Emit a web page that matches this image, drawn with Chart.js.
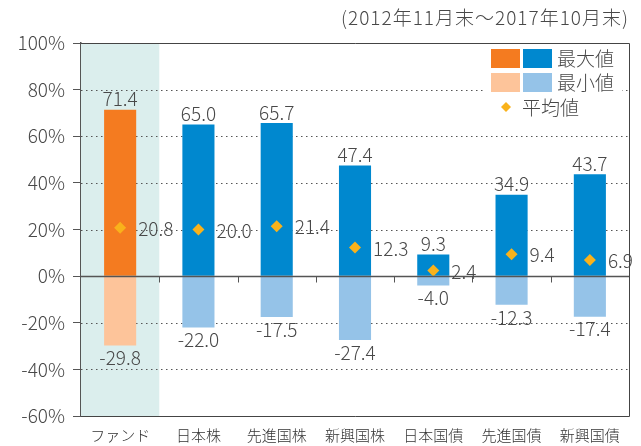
<!DOCTYPE html>
<html>
<head>
<meta charset="utf-8">
<script src="https://cdn.jsdelivr.net/npm/chart.js@4"></script>
<style>
  html, body { margin: 0; padding: 0; background: #fff; }
  #wrap { width: 641px; height: 446px; }
</style>
</head>
<body>
<div id="wrap"><canvas id="rangeChart" width="641" height="446"></canvas></div>
<script>
const categories = ["ファンド", "日本株", "先進国株", "新興国株", "日本国債", "先進国債", "新興国債"];
const maxValues = [71.4, 65.0, 65.7, 47.4, 9.3, 34.9, 43.7];
const minValues = [-29.8, -22.0, -17.5, -27.4, -4.0, -12.3, -17.4];
const avgValues = [20.8, 20.0, 21.4, 12.3, 2.4, 9.4, 6.9];
const periodNote = "(2012年11月末～2017年10月末)";
const legendNames = ["最大値", "最小値", "平均値"];

const FONT = '"Noto Sans CJK JP", "Noto Sans", sans-serif';
const TEXT = "#484848";
const AXIS = "#555";
const ORANGE = "#f47b20", ORANGE_L = "#fdc49a";
const BLUE = "#0088cf", BLUE_L = "#95c3e8";
const DIAMOND = "#f9b21b";

const maxColors = categories.map((c, i) => i === 0 ? ORANGE : BLUE);
const minColors = categories.map((c, i) => i === 0 ? ORANGE_L : BLUE_L);

// shading, dotted grid, zero line, box, labels, legend
const decor = {
  id: "decor",
  beforeDatasetsDraw(chart) {
    const { ctx, chartArea: a, scales: { y } } = chart;
    const step = (a.right - a.left) / categories.length;
    ctx.save();
    ctx.fillStyle = "#dbeeed";
    ctx.fillRect(a.left, a.top, step, a.bottom - a.top);
    ctx.strokeStyle = AXIS;
    ctx.lineWidth = 1;
    ctx.setLineDash([1.5, 3.5]);
    y.ticks.forEach(t => {
      if (t.value === 0 || t.value === 100 || t.value === -60) return;
      const py = Math.round(y.getPixelForValue(t.value)) + 0.5;
      ctx.beginPath();
      ctx.moveTo(a.left, py);
      ctx.lineTo(a.right, py);
      ctx.stroke();
    });
    ctx.restore();
  },
  afterDatasetsDraw(chart) {
    const { ctx, chartArea: a, scales: { x, y } } = chart;
    const step = (a.right - a.left) / categories.length;
    const zy = Math.round(y.getPixelForValue(0)) + 0.5;
    ctx.save();
    ctx.strokeStyle = AXIS;
    ctx.lineWidth = 1.5;
    ctx.beginPath();
    ctx.moveTo(a.left, zy);
    ctx.lineTo(a.right, zy);
    ctx.stroke();
    // small ticks at category boundaries
    ctx.lineWidth = 1;
    for (let i = 1; i < categories.length; i++) {
      const px = Math.round(a.left + step * i) + 0.5;
      ctx.beginPath();
      ctx.moveTo(px, zy);
      ctx.lineTo(px, zy + 6);
      ctx.stroke();
    }
    // box
    ctx.strokeStyle = "#444";
    ctx.beginPath();
    ctx.moveTo(a.left, Math.round(a.top) + 0.5);
    ctx.lineTo(Math.round(a.right) + 0.5, Math.round(a.top) + 0.5);
    ctx.lineTo(Math.round(a.right) + 0.5, Math.round(a.bottom) + 0.5);
    ctx.lineTo(a.left, Math.round(a.bottom) + 0.5);
    ctx.stroke();

    // value labels
    ctx.font = "300 19px " + FONT;
    ctx.fillStyle = TEXT;
    const bars = chart.getDatasetMeta(1).data;
    categories.forEach((c, i) => {
      const bx = x.getPixelForValue(i);
      const half = bars[i].width / 2;
      ctx.textAlign = "center";
      ctx.textBaseline = "bottom";
      ctx.fillText(maxValues[i].toFixed(1), bx, y.getPixelForValue(maxValues[i]) - 1);
      ctx.textBaseline = "top";
      ctx.fillText(minValues[i].toFixed(1), bx, y.getPixelForValue(minValues[i]) + 3);
      ctx.textAlign = "left";
      ctx.textBaseline = "middle";
      ctx.fillText(avgValues[i].toFixed(1), bx + half + 2, y.getPixelForValue(avgValues[i]) + 1);
    });
    ctx.restore();
  },
  afterDraw(chart) {
    const { ctx, chartArea: a } = chart;
    ctx.save();
    // period note
    ctx.font = "300 19px " + FONT;
    ctx.letterSpacing = "1px";
    ctx.fillStyle = TEXT;
    ctx.textAlign = "right";
    ctx.textBaseline = "middle";
    ctx.fillText(periodNote, 629, 18);
    ctx.letterSpacing = "0px";
    // legend
    ctx.fillStyle = "#fff";
    ctx.fillRect(484, a.top + 1, 138, 74);
    ctx.fillStyle = ORANGE;  ctx.fillRect(491, 49, 29, 19);
    ctx.fillStyle = BLUE;    ctx.fillRect(523, 49, 29, 19);
    ctx.fillStyle = ORANGE_L; ctx.fillRect(491, 73, 29, 19);
    ctx.fillStyle = BLUE_L;  ctx.fillRect(523, 73, 29, 19);
    ctx.fillStyle = DIAMOND;
    ctx.beginPath();
    ctx.moveTo(506, 102); ctx.lineTo(511, 107); ctx.lineTo(506, 112); ctx.lineTo(501, 107);
    ctx.closePath();
    ctx.fill();
    ctx.font = "300 19px " + FONT;
    ctx.fillStyle = TEXT;
    ctx.textAlign = "left";
    ctx.textBaseline = "middle";
    ctx.fillText(legendNames[0], 557, 59);
    ctx.fillText(legendNames[1], 557, 83);
    ctx.fillText(legendNames[2], 522, 108);
    ctx.restore();
  }
};

new Chart(document.getElementById("rangeChart"), {
  data: {
    labels: categories,
    datasets: [
      {
        type: "line",
        label: legendNames[2],
        data: avgValues,
        showLine: false,
        pointStyle: "rectRot",
        pointRadius: 6,
        pointBackgroundColor: DIAMOND,
        pointBorderWidth: 0,
        order: 0
      },
      {
        type: "bar",
        label: legendNames[0],
        data: maxValues,
        backgroundColor: maxColors,
        stack: "s",
        order: 1
      },
      {
        type: "bar",
        label: legendNames[1],
        data: minValues,
        backgroundColor: minColors,
        stack: "s",
        order: 1
      }
    ]
  },
  options: {
    responsive: false,
    animation: false,
    layout: { padding: { top: 43, right: 12, left: 0, bottom: 0 } },
    datasets: { bar: { categoryPercentage: 1, barPercentage: 0.41 } },
    plugins: { legend: { display: false }, tooltip: { enabled: false } },
    scales: {
      x: {
        stacked: true,
        grid: { display: false },
        border: { display: false },
        ticks: { color: "#333", font: { family: FONT, size: 15, weight: 300 }, padding: 2, maxRotation: 0 },
        afterFit: s => { s.height = 30; }
      },
      y: {
        stacked: true,
        min: -60,
        max: 100,
        ticks: {
          stepSize: 20,
          color: TEXT,
          padding: 8,
          font: { family: FONT, size: 19, weight: 300 },
          callback: v => v + "%"
        },
        grid: { drawOnChartArea: false, tickLength: 8, color: AXIS },
        border: { color: AXIS, width: 1.5 },
        afterFit: s => { s.width = 81; }
      }
    }
  },
  plugins: [decor]
});
</script>
</body>
</html>
